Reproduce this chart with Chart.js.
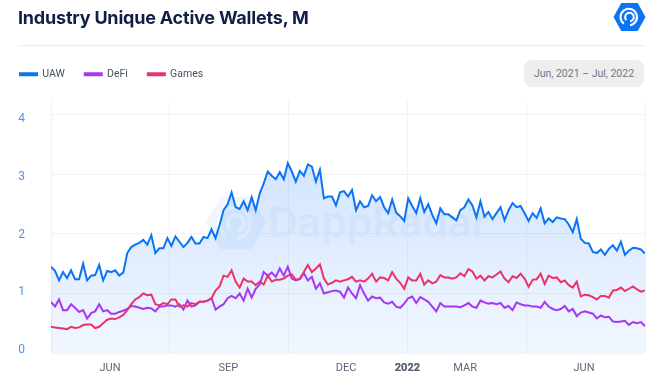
<!DOCTYPE html>
<html>
<head>
<meta charset="utf-8">
<title>Industry Unique Active Wallets</title>
<script src="https://cdn.jsdelivr.net/npm/chart.js@4"></script>
<style>
    html, body { margin: 0; padding: 0; background: #fff; }
    #page { position: relative; width: 657px; height: 389px; overflow: hidden; font-family: Roboto, sans-serif; }
    #title { position: absolute; left: 18px; top: 7px; font: 700 18px Inter, sans-serif; letter-spacing: -0.2px; color: #0f1f45; white-space: nowrap; }
    #rule { position: absolute; left: 18px; right: 12px; top: 45px; height: 1px; background: #ececec; }
    #range { position: absolute; left: 524px; top: 60px; width: 120px; height: 27px; line-height: 27px; border-radius: 8px; background: #eeeeee; color: #6f7683; font-size: 10.5px; text-align: center; }
    #logo { position: absolute; left: 613px; top: 2px; }
    #mark { position: absolute; left: 205px; top: 194px; opacity: 0.06; }
    #markText { position: absolute; left: 268px; top: 197px; font: 600 41px Inter, sans-serif; color: #1d78f2; opacity: 0.05; white-space: nowrap; }
    canvas { position: absolute; left: 0; top: 0; }
</style>
</head>
<body>
<div id="page">
    <svg id="mark" width="62" height="58" viewBox="0 0 32 28"><use href="#hex"/></svg>
    <div id="markText">DappRadar</div>
    <canvas id="chart" width="657" height="389"></canvas>
    <div id="title">Industry Unique Active Wallets, M</div>
    <div id="rule"></div>
    <div id="range">Jun, 2021 – Jul, 2022</div>
    <svg id="logo" width="33" height="30" viewBox="0 0 32 28">
        <g id="hex">
            <path d="M8 0.5H24L31.5 14L24 27.5H8L0.5 14Z" fill="#0a74f5"/>
            <path d="M10.5 20.5A8 8 0 1 1 16.5 22" fill="none" stroke="#fff" stroke-width="2"/>
            <path d="M13 17A4.2 4.2 0 1 1 16.5 18.2" fill="none" stroke="#fff" stroke-width="2"/>
        </g>
    </svg>
</div>
<script>
const uaw = [
    1.45, 1.38, 1.22, 1.36, 1.26, 1.39, 1.24, 1.24, 1.50, 1.22, 1.30, 1.31, 1.48, 1.22, 1.38, 1.36, 1.39, 1.30, 1.35, 1.68,
    1.78, 1.82, 1.85, 1.90, 1.82, 1.98, 1.68, 1.76, 1.76, 1.93, 1.80, 1.96, 1.87, 1.78, 1.85, 1.95, 1.84, 1.84, 1.95, 1.93,
    2.08, 1.93, 2.15, 2.40, 2.50, 2.70, 2.45, 2.42, 2.55, 2.40, 2.62, 2.40, 2.68, 2.85, 3.05, 2.98, 2.92, 3.04, 2.92, 3.19,
    3.05, 2.88, 3.06, 2.98, 3.17, 3.13, 2.88, 3.08, 2.60, 2.63, 2.63, 2.48, 2.70, 2.72, 2.63, 2.74, 2.40, 2.55, 2.45, 2.47,
    2.65, 2.55, 2.62, 2.45, 2.35, 2.58, 2.36, 2.30, 2.22, 2.60, 2.47, 2.35, 2.60, 2.37, 2.50, 2.32, 2.18, 2.43, 2.33, 2.33,
    2.28, 2.23, 2.40, 2.45, 2.58, 2.48, 2.28, 2.55, 2.29, 2.37, 2.25, 2.35, 2.45, 2.23, 2.40, 2.52, 2.45, 2.47, 2.35, 2.22,
    2.35, 2.27, 2.43, 2.18, 2.26, 2.20, 2.28, 2.26, 2.25, 2.16, 2.03, 2.25, 1.92, 1.85, 1.84, 1.70, 1.68, 1.74, 1.65, 1.75,
    1.81, 1.72, 1.87, 1.65, 1.72, 1.77, 1.76, 1.74, 1.67
];
const defi = [
    0.86, 0.78, 0.90, 0.72, 0.72, 0.82, 0.76, 0.69, 0.72, 0.58, 0.67, 0.70, 0.82, 0.70, 0.72, 0.66, 0.66, 0.69, 0.71, 0.74,
    0.79, 0.78, 0.76, 0.74, 0.76, 0.75, 0.70, 0.78, 0.78, 0.80, 0.80, 0.78, 0.82, 0.73, 0.88, 0.78, 0.80, 0.86, 0.86, 0.88,
    0.92, 0.73, 0.78, 0.82, 0.92, 0.96, 0.92, 1.00, 0.88, 1.08, 0.93, 1.08, 1.15, 1.36, 1.30, 1.35, 1.28, 1.42, 1.30, 1.45,
    1.25, 1.22, 1.24, 1.34, 1.22, 1.28, 1.08, 1.17, 1.00, 1.02, 1.04, 1.05, 1.03, 0.93, 1.10, 1.00, 0.92, 1.14, 1.00, 0.88,
    0.95, 0.92, 0.93, 0.85, 0.83, 0.86, 0.78, 0.76, 0.83, 0.92, 0.95, 0.84, 0.94, 0.90, 0.86, 0.78, 0.70, 0.84, 0.78, 0.78,
    0.78, 0.78, 0.77, 0.80, 0.84, 0.78, 0.76, 0.88, 0.85, 0.83, 0.84, 0.82, 0.84, 0.76, 0.79, 0.72, 0.85, 0.82, 0.80, 0.80,
    0.78, 0.78, 0.76, 0.86, 0.78, 0.74, 0.72, 0.74, 0.79, 0.70, 0.74, 0.62, 0.68, 0.70, 0.68, 0.66, 0.58, 0.63, 0.60, 0.61,
    0.53, 0.52, 0.53, 0.54, 0.47, 0.52, 0.50, 0.52, 0.45
];
const games = [
    0.44, 0.43, 0.42, 0.41, 0.40, 0.44, 0.42, 0.43, 0.47, 0.48, 0.48, 0.42, 0.44, 0.50, 0.56, 0.58, 0.57, 0.60, 0.64, 0.72,
    0.82, 0.90, 0.94, 1.00, 0.97, 0.98, 0.82, 0.80, 0.84, 0.82, 0.90, 0.90, 0.78, 0.80, 0.78, 0.84, 0.82, 0.86, 0.86, 0.88,
    0.92, 1.05, 1.12, 1.30, 1.28, 1.39, 1.20, 1.10, 1.25, 1.20, 1.20, 1.14, 1.20, 1.15, 1.30, 1.20, 1.23, 1.23, 1.25, 1.30,
    1.32, 1.23, 1.25, 1.36, 1.48, 1.36, 1.42, 1.49, 1.25, 1.15, 1.18, 1.22, 1.20, 1.22, 1.24, 1.28, 1.20, 1.22, 1.20, 1.25,
    1.33, 1.20, 1.27, 1.26, 1.22, 1.36, 1.25, 1.18, 1.08, 1.27, 1.22, 1.22, 1.33, 1.15, 1.22, 1.17, 1.20, 1.31, 1.27, 1.27,
    1.25, 1.27, 1.34, 1.29, 1.41, 1.37, 1.25, 1.30, 1.22, 1.29, 1.27, 1.32, 1.37, 1.25, 1.19, 1.29, 1.26, 1.33, 1.25, 1.11,
    1.23, 1.24, 1.33, 1.16, 1.30, 1.26, 1.27, 1.19, 1.22, 1.14, 1.10, 1.20, 0.95, 0.98, 0.97, 0.94, 0.90, 0.96, 0.96, 0.93,
    1.05, 1.06, 1.10, 1.04, 1.08, 1.12, 1.07, 1.03, 1.05
];
// sample numbers where the vertical grid lines sit, and where the month labels sit
const gridSamples = [0, 29.6, 59.2, 88.8, 118.4, 148];
const tickSamples = [14.7, 44.2, 73.5, 88.8, 103.2, 132.8];
const tickLabels = ['JUN', 'SEP', 'DEC', '2022', 'MAR', 'JUN'];
const yTicks = [0, 1, 2, 3, 4];

const toPoints = (values) => values.map((y, x) => ({ x, y }));
const gridLine = '#f1f2f5';

// plot area has to start at y=101, whatever height the legend asks for
const legendHeight = {
    id: 'legendHeight',
    beforeLayout(chart) {
        const legend = chart.legend;
        if (!legend || legend.fitWrapped) return;
        const fit = legend.fit.bind(legend);
        legend.fit = () => {
            fit();
            legend.height = 52;
        };
        legend.fitWrapped = true;
    },
};

new Chart(document.getElementById('chart'), {
    type: 'line',
    data: {
        datasets: [
            {
                label: 'UAW',
                data: toPoints(uaw),
                borderColor: '#0a74f5',
                backgroundColor: (ctx) => {
                    const area = ctx.chart.chartArea;
                    if (!area) return 'transparent';
                    const gradient = ctx.chart.ctx.createLinearGradient(0, area.top + 60, 0, area.bottom);
                    gradient.addColorStop(0, 'rgba(30, 120, 245, 0.2)');
                    gradient.addColorStop(1, 'rgba(30, 120, 245, 0.06)');
                    return gradient;
                },
                fill: 'origin',
                order: 3,
            },
            { label: 'DeFi', data: toPoints(defi), borderColor: '#a637f5', backgroundColor: '#a637f5', order: 2 },
            { label: 'Games', data: toPoints(games), borderColor: '#ec3368', backgroundColor: '#ec3368', order: 1 },
        ],
    },
    options: {
        animation: false,
        responsive: false,
        layout: { padding: { top: 49, left: 0, right: 12, bottom: 0 } },
        elements: { point: { radius: 0 }, line: { borderWidth: 2, tension: 0 } },
        plugins: {
            tooltip: { enabled: false },
            legend: {
                align: 'start',
                labels: {
                    boxWidth: 17,
                    boxHeight: 2,
                    padding: 20,
                    color: '#465064',
                    font: { family: 'Roboto', size: 10.5 },
                    sort: (a, b) => a.datasetIndex - b.datasetIndex,
                },
            },
        },
        scales: {
            x: {
                type: 'linear',
                min: 0,
                max: 148,
                afterFit: (scale) => { scale.height = 36; },
                afterBuildTicks: (scale) => {
                    scale.ticks = gridSamples.concat(tickSamples).sort((a, b) => a - b).map((value) => ({ value }));
                },
                grid: {
                    drawTicks: false,
                    color: (ctx) => (gridSamples.includes(ctx.tick?.value) ? gridLine : 'transparent'),
                },
                border: { display: false },
                ticks: {
                    autoSkip: false,
                    maxRotation: 0,
                    padding: 9,
                    color: '#5e6778',
                    font: (ctx) => ({ family: 'Roboto', size: 11, weight: ctx.tick?.value === 88.8 ? '700' : '400' }),
                    callback: (value) => {
                        const index = tickSamples.indexOf(value);
                        return index < 0 ? '' : tickLabels[index];
                    },
                },
            },
            y: {
                min: 0,
                max: 4.235,
                afterFit: (scale) => { scale.width = 0; },
                afterBuildTicks: (scale) => { scale.ticks = yTicks.map((value) => ({ value })); },
                grid: { color: gridLine, drawTicks: false },
                border: { display: false },
                ticks: { display: false },
            },
            // tick labels sit a little off the grid lines in the original, so they get their own axis
            yLabels: {
                position: 'left',
                min: -0.052,
                max: 4.312,
                afterFit: (scale) => { scale.width = 51; },
                afterBuildTicks: (scale) => { scale.ticks = yTicks.map((value) => ({ value })); },
                grid: { display: false, drawTicks: false },
                border: { display: false },
                ticks: { padding: 26, color: '#4b93f5', font: { family: 'Roboto', size: 12 } },
            },
        },
    },
    plugins: [legendHeight],
});
</script>
</body>
</html>
